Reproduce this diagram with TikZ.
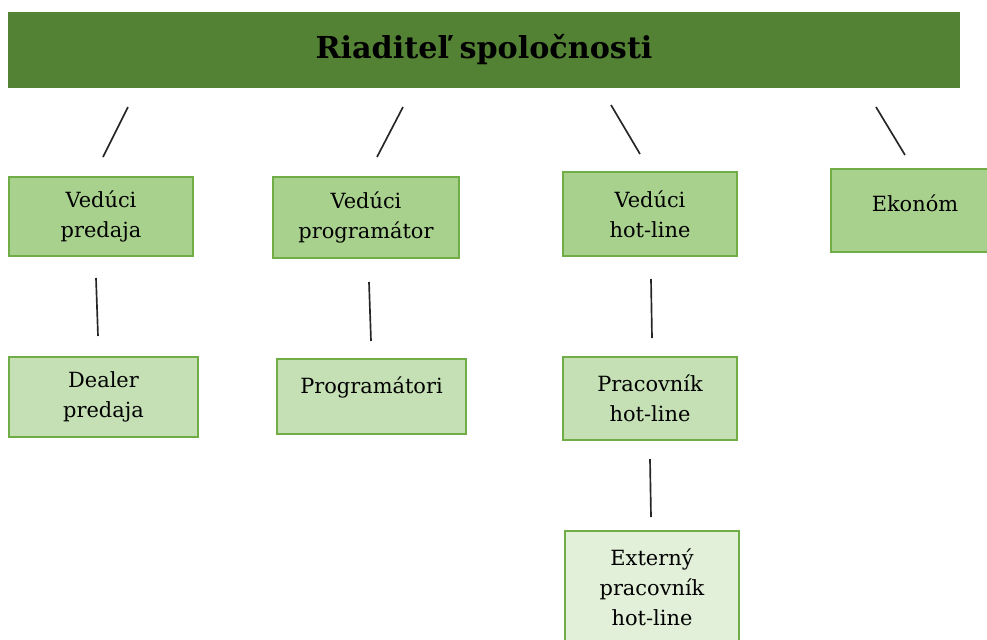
\documentclass[tikz,border=0pt]{standalone}
\usepackage{fontspec}
\setmainfont{DejaVu Serif}
\usetikzlibrary{positioning,calc}
\definecolor{topgreen}{HTML}{548235}
\definecolor{midgreen}{HTML}{A9D18E}
\definecolor{lightgreen}{HTML}{C5E0B4}
\definecolor{palegreen}{HTML}{E2F0D9}
\definecolor{edgegreen}{HTML}{70AD47}

\begin{document}
\begin{tikzpicture}[x=0.02cm, y=-0.02cm,
    box/.style={draw=edgegreen, line width=0.8pt, align=center, inner sep=0pt,
        font=\fontsize{11.9}{17}\selectfont},
    lead/.style={box, fill=midgreen},
    staff/.style={box, fill=lightgreen},
    extern/.style={box, fill=palegreen},
    lift/.style={text depth=#1},
    link/.style={line width=0.95pt, black!85}]
    \useasboundingbox (0,0) rectangle (987,639);

    % Director
    \node[fill=topgreen, minimum width=19.04cm, minimum height=1.52cm,
        font=\fontsize{17.2}{20}\selectfont\bfseries] (boss) at (484,50) {Riaditeľ spoločnosti};

    % Heads
    \node[lead, minimum width=3.68cm, minimum height=1.58cm] (sales) at (101,216.5) {Vedúci\\predaja};
    \node[lead, minimum width=3.72cm, minimum height=1.62cm] (devlead) at (366,217.5) {Vedúci\\programátor};
    \node[lead, minimum width=3.48cm, minimum height=1.68cm] (hotlead) at (650,214) {Vedúci\\hot-line};
    \node[lead, lift=0.3cm, minimum width=3.36cm, minimum height=1.66cm] (econ) at (915,210.5) {Ekonóm};

    % Staff
    \node[staff, minimum width=3.78cm, minimum height=1.6cm] (dealer) at (103.5,397) {Dealer\\predaja};
    \node[staff, lift=0.45cm, minimum width=3.78cm, minimum height=1.5cm] (devs) at (371.5,396.5) {Programátori};
    \node[staff, minimum width=3.48cm, minimum height=1.66cm] (hotstaff) at (650,398.5) {Pracovník\\hot-line};
    \node[extern, minimum width=3.48cm, minimum height=2.24cm] (hotext) at (652,587) {Externý\\pracovník\\hot-line};

    % Connectors
    \coordinate (s1) at (128,107); \coordinate (e1) at (103,157);
    \coordinate (s2) at (403,107); \coordinate (e2) at (377,157);
    \coordinate (s3) at (611,105); \coordinate (e3) at (640,154);
    \coordinate (s4) at (876,107); \coordinate (e4) at (905,155);
    \draw[link] (s1) -- (e1);
    \draw[link] (s2) -- (e2);
    \draw[link] (s3) -- (e3);
    \draw[link] (s4) -- (e4);

    \coordinate (s5) at (96,278); \coordinate (e5) at (98,336);
    \coordinate (s6) at (369,282); \coordinate (e6) at (371,341);
    \coordinate (s7) at (651,279); \coordinate (e7) at (652,338);
    \coordinate (s8) at (650,459); \coordinate (e8) at (651,517);
    \draw[link] (s5) -- (e5);
    \draw[link] (s6) -- (e6);
    \draw[link] (s7) -- (e7);
    \draw[link] (s8) -- (e8);
\end{tikzpicture}
\end{document}
